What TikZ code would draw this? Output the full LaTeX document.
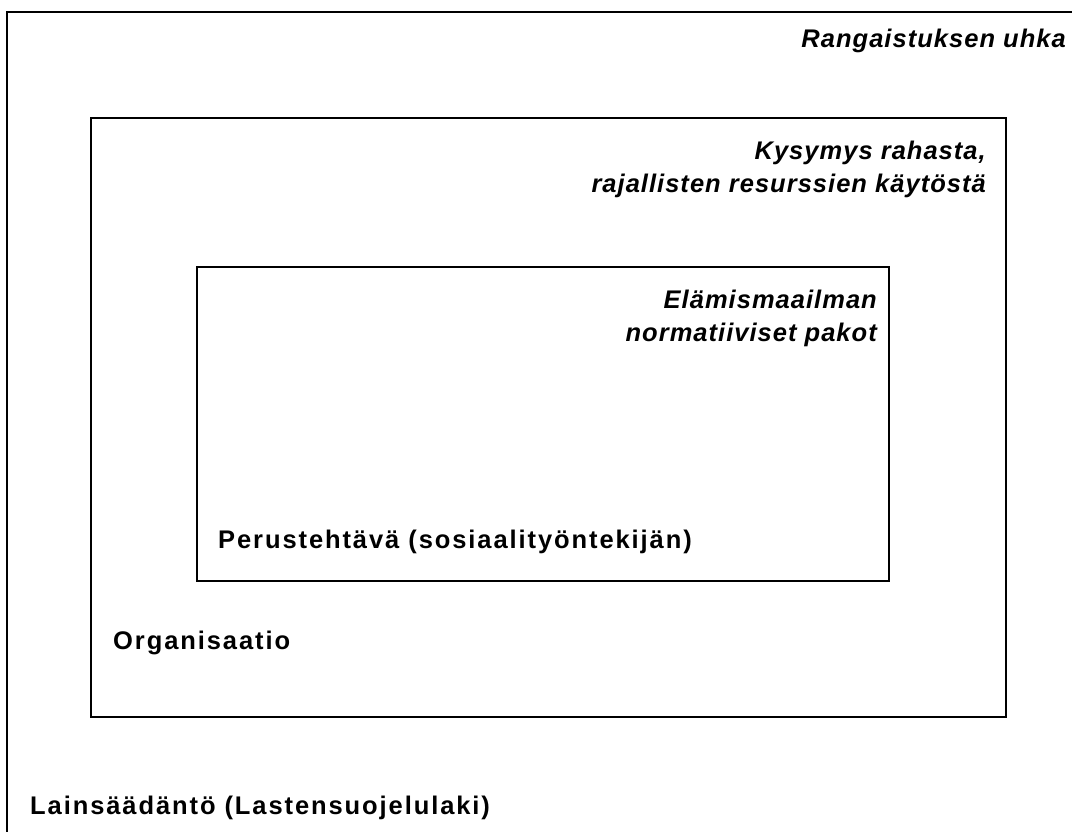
\documentclass[tikz,border=0pt]{standalone}
\usepackage{fontspec}
\setmainfont{Liberation Sans}
\newfontfamily\wideface[LetterSpace=7.5]{Liberation Sans}
\newfontfamily\slantface[LetterSpace=4]{Liberation Sans}

\tikzset{
    frame/.style={line width=1.6pt},
    slant/.style={font=\fontsize{25.5}{33}\slantface\bfseries\itshape, inner sep=0pt, align=right},
    upright/.style={font=\fontsize{25.5}{29}\wideface\bfseries, inner sep=0pt}
}

\begin{document}
\begin{tikzpicture}[x=1pt, y=1pt, yscale=-1]
    \useasboundingbox (0,0) rectangle (1072,832);

    % Define the corners of the frames
    \coordinate (lawTL) at (7, 12);
    \coordinate (lawTR) at (1072, 12);
    \coordinate (lawBL) at (7, 832);
    \coordinate (orgTL) at (91, 118);
    \coordinate (orgBR) at (1006, 717);
    \coordinate (taskTL) at (197, 267);
    \coordinate (taskBR) at (889, 581);

    % Draw the frames
    \draw[frame] (lawBL) -- (lawTL) -- (lawTR); % outer frame runs off the page
    \draw[frame] (orgTL) rectangle (orgBR);
    \draw[frame] (taskTL) rectangle (taskBR);

    % Draw the labels
    \node[slant, anchor=base east] (threat) at (1066, 48) {Rangaistuksen uhka};
    \node[slant, anchor=north east] (money) at (986, 141) {Kysymys rahasta,\\rajallisten resurssien käytöstä};
    \node[slant, anchor=north east] (norms) at (877, 290) {Elämismaailman\\normatiiviset pakot};
    \node[upright, anchor=base west] (task) at (218, 548) {Perustehtävä (sosiaalityöntekijän)};
    \node[upright, anchor=base west] (org) at (113, 649) {Organisaatio};
    \node[upright, anchor=base west] (law) at (30, 814) {Lainsäädäntö (Lastensuojelulaki)};
\end{tikzpicture}
\end{document}
